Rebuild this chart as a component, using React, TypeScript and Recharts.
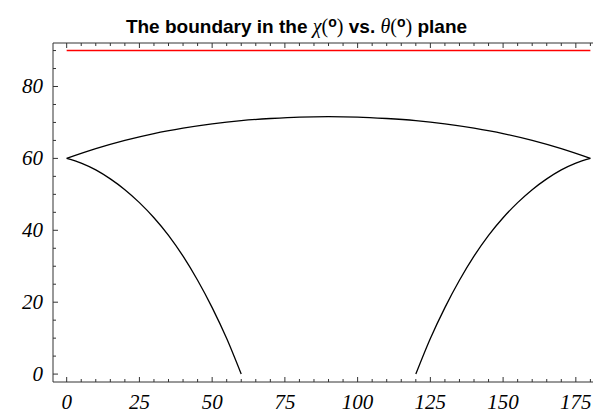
import { LineChart, Line, XAxis, YAxis } from 'recharts';

// theta (deg) / chi (deg) samples
const topTheta = [0, 10, 20, 30, 40, 50, 60, 70, 80, 90, 100, 110, 120, 130, 140, 150, 160, 170, 180];
const topChi = [60, 62.7, 65.0, 66.9, 68.4, 69.6, 70.5, 71.1, 71.5, 71.6, 71.5, 71.1, 70.5, 69.6, 68.4, 66.9, 65.0, 62.7, 60];

const leftTheta = [0, 5, 10, 15, 20, 25, 30, 35, 40, 45, 50, 55, 60];
const leftChi = [60, 58.7, 56.8, 54.3, 51.3, 47.7, 43.5, 38.6, 32.8, 26.1, 18.5, 9.9, 0];

const rightTheta = [120, 125, 130, 135, 140, 145, 150, 155, 160, 165, 170, 175, 180];
const rightChi = [0, 9.9, 18.5, 26.1, 32.8, 38.6, 43.5, 47.7, 51.3, 54.3, 56.8, 58.7, 60];

const limitTheta = [0, 180];
const limitChi = [90, 90];

const xTicks = Array.from({ length: 37 }, (_, i) => i * 5);
const yTicks = Array.from({ length: 19 }, (_, i) => i * 5);

const toPoints = (xs: number[], ys: number[]) => xs.map((x, i) => ({ x, y: ys[i] }));

const topData = toPoints(topTheta, topChi);
const leftData = toPoints(leftTheta, leftChi);
const rightData = toPoints(rightTheta, rightChi);
const limitData = toPoints(limitTheta, limitChi);

const FRAME = '#333';
const labelFont = { fontFamily: '"Liberation Serif", serif', fontStyle: 'italic', fontSize: 21, fill: '#000' };

function BottomTick({ x, y, payload }: any) {
  const major = payload.value % 25 === 0;
  return (
    <g>
      <line x1={x} y1={y} x2={x} y2={y - (major ? 5 : 3)} stroke={FRAME} />
      {major && (
        <text x={x} y={y + 27} textAnchor="middle" {...labelFont}>
          {payload.value}
        </text>
      )}
    </g>
  );
}

function TopTick({ x, y, payload }: any) {
  const major = payload.value % 25 === 0;
  return <line x1={x} y1={y} x2={x} y2={y + (major ? 5 : 3)} stroke={FRAME} />;
}

function LeftTick({ x, y, payload }: any) {
  const major = payload.value % 20 === 0;
  return (
    <g>
      <line x1={x} y1={y} x2={x + (major ? 5 : 3)} y2={y} stroke={FRAME} />
      {major && (
        <text x={x - 10} y={y + 7} textAnchor="end" {...labelFont}>
          {payload.value}
        </text>
      )}
    </g>
  );
}

const serif = { fontFamily: '"Liberation Serif", serif', fontWeight: 'normal' as const, fontSize: 20 };
const deg = <sup style={{ fontSize: 14, fontWeight: 'bold', verticalAlign: 6 }}>o</sup>;

export default function App() {
  return (
    <div style={{ position: 'absolute', left: 0, top: 0, width: 593, height: 414, background: '#fff' }}>
      <div
        style={{
          position: 'absolute',
          top: 10,
          left: 0,
          width: 593,
          textAlign: 'center',
          fontFamily: '"Liberation Sans", Arial, sans-serif',
          fontWeight: 'bold',
          fontSize: 19,
          lineHeight: '24px',
          color: '#000',
        }}
      >
        The boundary in the <span style={{ ...serif, fontStyle: 'italic' }}>χ</span>
        <span style={serif}>(</span>
        {deg}
        <span style={serif}>)</span> vs.{' '}
        <span style={{ ...serif, fontStyle: 'italic' }}>θ</span>
        <span style={serif}>(</span>
        {deg}
        <span style={serif}>)</span> plane
      </div>
      <LineChart width={593} height={414} margin={{ top: 42, right: 0, bottom: 0, left: 0 }}>
        <XAxis
          xAxisId="b"
          type="number"
          dataKey="x"
          domain={[-4.7, 180.9]}
          allowDataOverflow
          ticks={xTicks}
          interval={0}
          tick={<BottomTick />}
          tickSize={0}
          tickMargin={0}
          tickLine={false}
          axisLine={{ stroke: FRAME }}
          height={32}
        />
        <XAxis
          xAxisId="t"
          orientation="top"
          type="number"
          dataKey="x"
          domain={[-4.7, 180.9]}
          allowDataOverflow
          ticks={xTicks}
          interval={0}
          tick={<TopTick />}
          tickSize={0}
          tickMargin={0}
          tickLine={false}
          axisLine={{ stroke: FRAME }}
          height={1}
        />
        <YAxis
          type="number"
          dataKey="y"
          domain={[-2.2, 92.1]}
          allowDataOverflow
          ticks={yTicks}
          interval={0}
          tick={<LeftTick />}
          tickSize={0}
          tickMargin={0}
          tickLine={false}
          axisLine={{ stroke: FRAME }}
          width={53}
        />
        <Line xAxisId="b" data={limitData} dataKey="y" type="linear" stroke="#ff0000" strokeWidth={1.5} dot={false} isAnimationActive={false} />
        <Line xAxisId="b" data={topData} dataKey="y" type="monotone" stroke="#000" strokeWidth={1.3} dot={false} isAnimationActive={false} />
        <Line xAxisId="b" data={leftData} dataKey="y" type="monotone" stroke="#000" strokeWidth={1.3} dot={false} isAnimationActive={false} />
        <Line xAxisId="b" data={rightData} dataKey="y" type="monotone" stroke="#000" strokeWidth={1.3} dot={false} isAnimationActive={false} />
      </LineChart>
    </div>
  );
}
